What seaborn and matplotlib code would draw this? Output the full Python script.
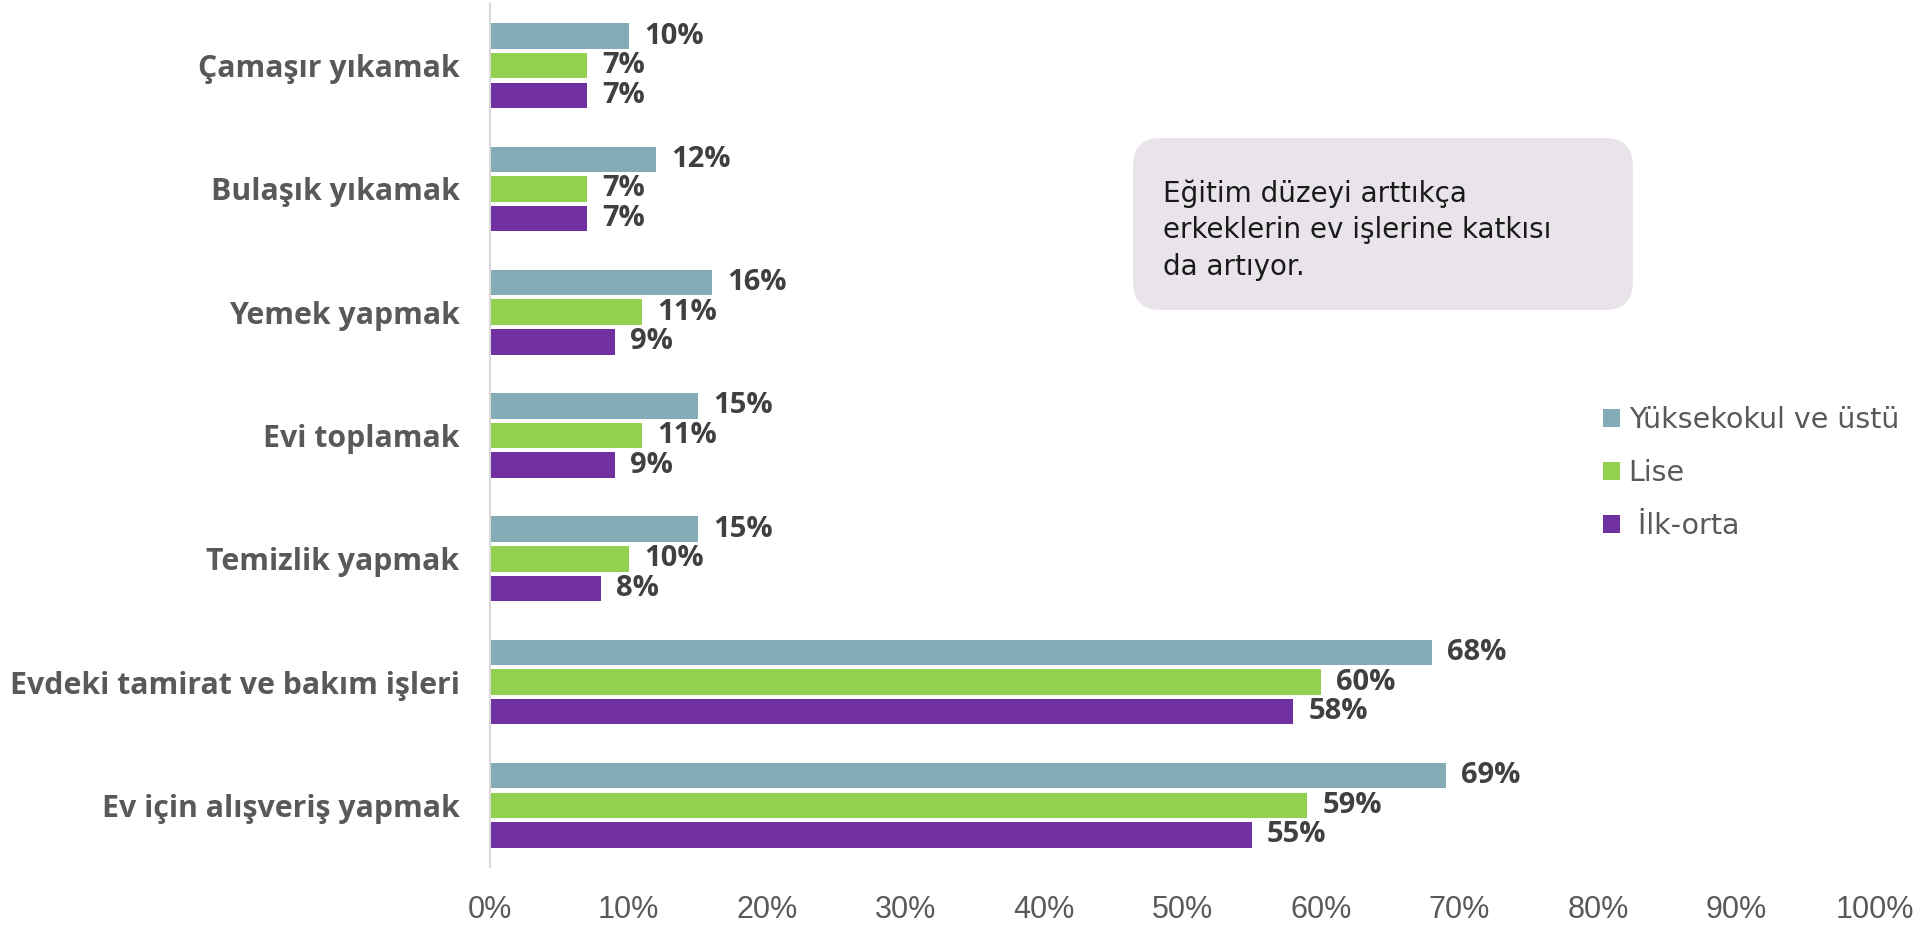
import numpy as np
import pandas as pd
import matplotlib
matplotlib.use("Agg")
import matplotlib.pyplot as plt
import seaborn as sns
from matplotlib.patches import FancyBboxPatch

# ---------------- data ----------------
categories = ["Çamaşır yıkamak", "Bulaşık yıkamak", "Yemek yapmak", "Evi toplamak",
              "Temizlik yapmak", "Evdeki tamirat ve bakım işleri", "Ev için alışveriş yapmak"]
series_names = ["Yüksekokul ve üstü", "Lise", " İlk-orta"]
yuksekokul = [10, 12, 16, 15, 15, 68, 69]
lise = [7, 7, 11, 11, 10, 60, 59]
ilk_orta = [7, 7, 9, 9, 8, 58, 55]
x_ticks = [0, 10, 20, 30, 40, 50, 60, 70, 80, 90, 100]
x_tick_labels = ["0%", "10%", "20%", "30%", "40%", "50%", "60%", "70%", "80%", "90%", "100%"]
callout_text = "Eğitim düzeyi arttıkça\nerkeklerin ev işlerine katkısı\nda artıyor."

colors = ["#84ACB6", "#92D050", "#7030A0"]

df = pd.DataFrame({
    "Kategori": categories * 3,
    "Değer": yuksekokul + lise + ilk_orta,
    "Eğitim": [series_names[0]] * 7 + [series_names[1]] * 7 + [series_names[2]] * 7,
})

sns.set_style("white")
plt.rcParams["font.family"] = ["DejaVu Sans"]

W, H = 1929, 925
fig = plt.figure(figsize=(W / 100, H / 100), dpi=100)
ax = fig.add_axes([490 / W, (H - 867) / H, (1875 - 490) / W, (867 - 4) / H])

sns.barplot(data=df, y="Kategori", x="Değer", hue="Eğitim", orient="h",
            order=categories, hue_order=series_names, palette=colors,
            saturation=1, width=0.72, gap=0.14, linewidth=0, ax=ax,
            errorbar=None)

label_font = ["Open Sans", "DejaVu Sans"]
for cont in ax.containers:
    ax.bar_label(cont, labels=[f"{int(round(v))}%" for v in cont.datavalues],
                 padding=11, fontsize=21, fontweight="bold", color="#404040",
                 family=label_font)

ax.set_xlim(0, 100)
ax.set_ylim(6.5, -0.5)
ax.set_xlabel("")
ax.set_ylabel("")
ax.set_xticks(x_ticks)
ax.set_xticklabels(x_tick_labels, fontsize=22, color="#595959",
                   family=["Liberation Sans Narrow", "Liberation Sans", "DejaVu Sans"])
ax.tick_params(axis="x", length=0, pad=20)

ax.set_yticks(range(len(categories)))
ax.set_yticklabels(categories, fontsize=21.8, fontweight="bold", color="#595959",
                   family=label_font)
ax.tick_params(axis="y", which="major", length=0, pad=22)
ax.set_yticks(np.arange(-0.5, len(categories), 1), minor=True)
ax.tick_params(axis="y", which="minor", length=6.5, width=1.2, color="#D9D9D9")

for s in ["top", "right", "bottom"]:
    ax.spines[s].set_visible(False)
ax.spines["left"].set_color("#D9D9D9")
ax.spines["left"].set_linewidth(1.5)
ax.grid(False)

# legend
handles, labels = ax.get_legend_handles_labels()
if ax.get_legend() is not None:
    ax.get_legend().remove()
fig.legend(handles, labels, loc="upper left",
           bbox_to_anchor=(1603 / W, (H - 406) / H), frameon=False,
           fontsize=20.5, handlelength=0.6, handleheight=0.6, handletextpad=0.3,
           labelspacing=0.88, borderpad=0, borderaxespad=0, labelcolor="#595959")

# callout box (inches coordinates, isotropic)
box = FancyBboxPatch((1133 / 100, (H - 310) / 100), 5.00, 1.72,
                     boxstyle="round,pad=0,rounding_size=0.28",
                     transform=fig.dpi_scale_trans, facecolor="#E8E4EA",
                     edgecolor="none", zorder=5)
fig.patches.append(box)
fig.text(1163 / 100, (H - 179) / 100, callout_text, transform=fig.dpi_scale_trans,
         fontsize=20, color="#1a1a1a", va="top", ha="left", linespacing=1.39,
         zorder=6)

fig.savefig("out.png", dpi=100)
